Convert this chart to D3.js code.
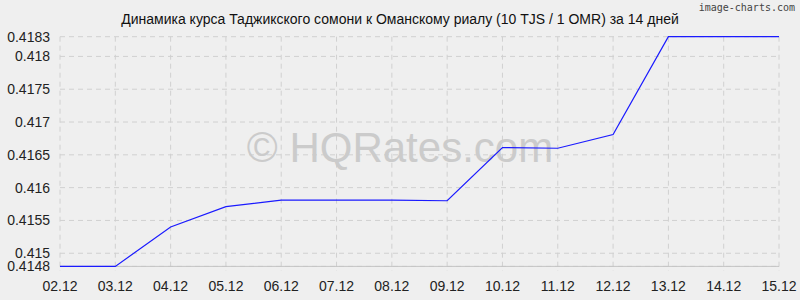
<!DOCTYPE html>
<html>
<head>
<meta charset="utf-8">
<script src="https://cdn.jsdelivr.net/npm/d3@7"></script>
<style>
  body { margin: 0; background: #efefef; }
  svg { display: block; font-family: "Liberation Sans", Arial, sans-serif; }
</style>
</head>
<body>
<svg id="chart" width="800" height="300"></svg>
<script>
// данные графика
const dates = ["02.12", "03.12", "04.12", "05.12", "06.12", "07.12", "08.12",
               "09.12", "10.12", "11.12", "12.12", "13.12", "14.12", "15.12"];
const rates = [0.4148, 0.4148, 0.41540, 0.41571, 0.41581, 0.41581, 0.41581,
               0.41580, 0.41661, 0.41660, 0.41681, 0.4183, 0.4183, 0.4183];
const yTicks = [0.4148, 0.415, 0.4155, 0.416, 0.4165, 0.417, 0.4175, 0.418, 0.4183];
const title = "Динамика курса Таджикского сомони к Оманскому риалу (10 TJS / 1 OMR) за 14 дней";

const svg = d3.select("#chart");
svg.append("rect").attr("width", 800).attr("height", 300).attr("fill", "#efefef");

const x = d3.scalePoint().domain(dates).range([60, 779]);
const y = d3.scaleLinear().domain([0.4148, 0.4183]).range([266.4, 36.7]);

// сетка
svg.append("g")
  .selectAll("line")
  .data(yTicks)
  .join("line")
  .attr("x1", 60).attr("x2", 779)
  .attr("y1", d => y(d)).attr("y2", d => y(d))
  .attr("stroke", "#d0d0d0")
  .attr("stroke-dasharray", "5,4");

svg.append("g")
  .selectAll("line")
  .data(dates)
  .join("line")
  .attr("x1", d => x(d)).attr("x2", d => x(d))
  .attr("y1", 36.7).attr("y2", 271)
  .attr("stroke", "#d0d0d0")
  .attr("stroke-dasharray", "5,4");

// ось X
svg.append("line")
  .attr("x1", 60).attr("x2", 779)
  .attr("y1", y(0.4148)).attr("y2", y(0.4148))
  .attr("stroke", "#c4c4c4");

svg.append("g")
  .selectAll("text")
  .data(dates)
  .join("text")
  .attr("x", d => x(d))
  .attr("y", 291)
  .attr("text-anchor", "middle")
  .attr("font-size", 14)
  .attr("fill", "#222")
  .text(d => d);

// ось Y
svg.append("g")
  .selectAll("text")
  .data(yTicks)
  .join("text")
  .attr("x", 50)
  .attr("y", d => y(d) + 5)
  .attr("text-anchor", "end")
  .attr("font-size", 14)
  .attr("fill", "#222")
  .text(d => d);

// водяной знак
svg.append("text")
  .attr("x", 400)
  .attr("y", 162)
  .attr("text-anchor", "middle")
  .attr("font-size", 42)
  .attr("fill", "#cbcbcb")
  .text("© HQRates.com");

// линия курса
const line = d3.line()
  .x((d, i) => x(dates[i]))
  .y(d => y(d));

svg.append("path")
  .datum(rates)
  .attr("d", line)
  .attr("fill", "none")
  .attr("stroke", "#1a1aff")
  .attr("stroke-width", 1.2);

// заголовок
svg.append("text")
  .attr("x", 400)
  .attr("y", 24)
  .attr("text-anchor", "middle")
  .attr("font-size", 14)
  .attr("fill", "#111")
  .text(title);

svg.append("text")
  .attr("x", 795)
  .attr("y", 11)
  .attr("text-anchor", "end")
  .attr("font-family", "DejaVu Sans Mono, monospace")
  .attr("font-size", 10)
  .attr("fill", "#444")
  .text("image-charts.com");
</script>
</body>
</html>
